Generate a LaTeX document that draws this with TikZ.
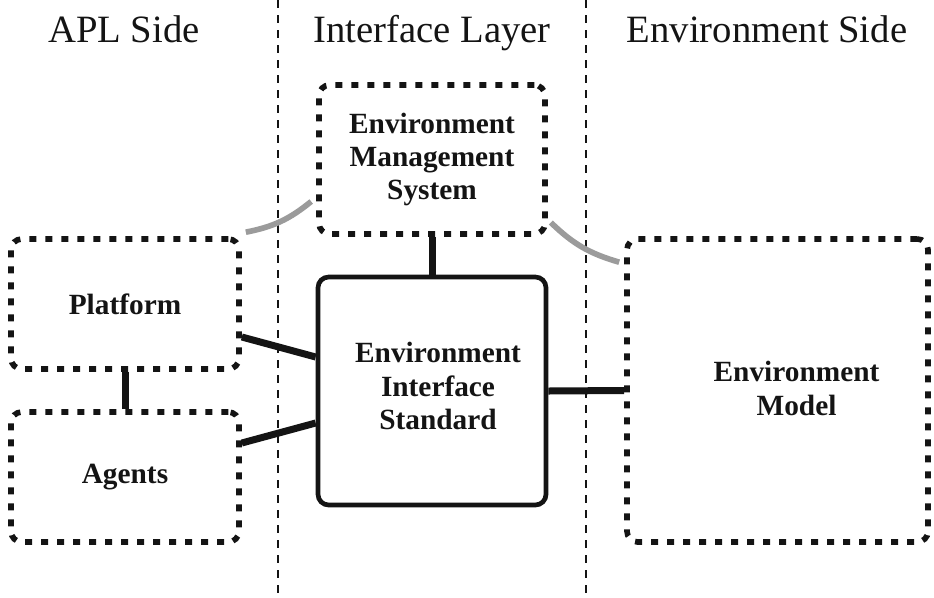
\documentclass[tikz,border=0pt]{standalone}
\usepackage{fontspec}
\setmainfont{Liberation Serif}
\usetikzlibrary{calc}

\tikzset{every picture/.style={line width=0.75pt}}
\tikzset{
  dotbox/.style={draw={rgb, 255:red, 20; green, 20; blue, 20}, line width=4.25pt, dash pattern=on 5.25pt off 6.75pt, rounded corners=8pt, inner sep=0pt},
  solidbox/.style={draw={rgb, 255:red, 20; green, 20; blue, 20}, line width=3.5pt, rounded corners=8pt, inner sep=0pt},
  boxtext/.style={align=center, font=\fontsize{22}{25}\selectfont\bfseries, text={rgb, 255:red, 20; green, 20; blue, 20}},
  heading/.style={anchor=base, font=\fontsize{29}{32}\selectfont, text={rgb, 255:red, 20; green, 20; blue, 20}},
  link/.style={draw={rgb, 255:red, 20; green, 20; blue, 20}, line width=5.25pt},
  grayarc/.style={draw={rgb, 255:red, 155; green, 155; blue, 155}, line width=4.25pt},
  sepline/.style={draw={rgb, 255:red, 20; green, 20; blue, 20}, line width=1.6pt, dash pattern=on 6pt off 5.25pt}
}

\begin{document}
\begin{tikzpicture}[x=0.75pt,y=0.75pt,yscale=-1,xscale=1]
\useasboundingbox (0,0) rectangle (934,597);

%Straight Lines: column separators
\coordinate (sepA top) at (278,0);
\coordinate (sepA bot) at (278,597);
\coordinate (sepB top) at (586,0);
\coordinate (sepB bot) at (586,597);
\draw [sepline] (sepA top) -- (sepA bot);
\draw [sepline] (sepB top) -- (sepB bot);

% Text Node
\node [heading] (apl) at (124,42) {APL Side};
% Text Node
\node [heading] (iface) at (432,42) {Interface Layer};
% Text Node
\node [heading] (envside) at (767,42) {Environment Side};

%Shape: Rounded Rect
\node [dotbox, minimum width=171pt, minimum height=97.5pt] (platform) at (125,304) {};
%Shape: Rounded Rect
\node [dotbox, minimum width=171pt, minimum height=97.5pt] (agents) at (125,477) {};
%Shape: Rounded Rect
\node [dotbox, minimum width=169.5pt, minimum height=111.75pt] (ems) at (432,159.5) {};
%Shape: Rounded Rect
\node [solidbox, minimum width=171pt, minimum height=171pt] (eis) at (432,391) {};
%Shape: Rounded Rect
\node [dotbox, minimum width=225.75pt, minimum height=227.25pt] (envmodel) at (777.5,390.5) {};

% Text Node
\node [boxtext] (platform text) at (platform.center) {Platform};
% Text Node
\node [boxtext] (agents text) at (agents.center) {Agents};
% Text Node
\node [boxtext] (ems text) at (ems.center) {Environment\\Management\\System};
% Text Node
\node [boxtext] (eis text) at ($(eis.center)+(6,-5)$) {Environment\\Interface\\Standard};
% Text Node
\node [boxtext] (envmodel text) at ($(envmodel.center)+(19,-2)$) {Environment\\Model};

%Straight Lines
\draw [link] (platform.south) -- (agents.north);
\draw [link] (ems.south) -- (eis.north);
\draw [link] (eis.east) -- (envmodel.west);
\draw [link] ($(platform.east)+(0,33)$) -- ($(eis.west)+(0,-34)$);
\draw [link] ($(agents.east)+(0,-34)$) -- ($(eis.west)+(0,32)$);

%Curve Lines
\draw [grayarc] ($(platform.north east)+(4,-4)$) to [bend left=14] ($(ems.west)+(-5,42)$);
\draw [grayarc] ($(ems.east)+(3,63)$) to [bend left=14] ($(envmodel.north west)+(-5,26)$);

\end{tikzpicture}
\end{document}
